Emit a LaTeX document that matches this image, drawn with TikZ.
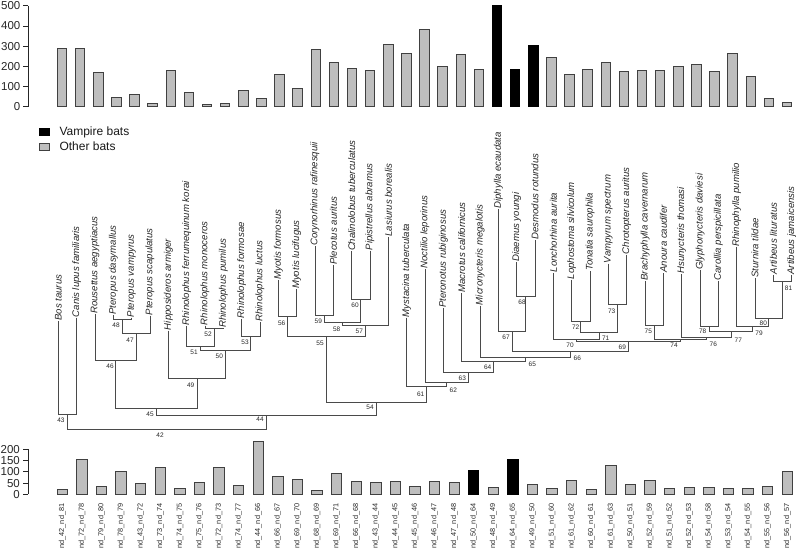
\documentclass[tikz,border=0pt]{standalone}
\usepackage{fontspec}
\setmainfont{Liberation Sans}
\definecolor{bargray}{HTML}{BEBEBE}
\definecolor{brcol}{HTML}{4A4A4A}
\begin{document}
\begin{tikzpicture}[x=1pt,y=-1pt,
  br/.style={draw=brcol,line width=0.9pt},
  tip/.style={rotate=90,anchor=east,inner sep=0.3pt,text=black!85,font=\fontsize{9.6}{11}\selectfont\itshape},
  nl/.style={inner sep=0pt,text=black!85,font=\fontsize{6.5}{7}\selectfont},
  axl/.style={anchor=east,inner sep=0pt,text=black!85,font=\fontsize{11.5}{13}\selectfont},
  blab/.style={rotate=90,anchor=east,inner sep=0pt,text=black!85,font=\fontsize{7.3}{8}\selectfont},
  legt/.style={anchor=base west,inner sep=0pt,text=black!90,font=\fontsize{12}{14}\selectfont},
  axis/.style={draw=black!85,line width=0.7pt},
  barg/.style={fill=bargray,draw=black!75,line width=0.8pt},
  bark/.style={fill=black,draw=black,line width=0.8pt}]
\useasboundingbox (0,0) rectangle (799,554);

% ---------------- top bar chart ----------------
\draw[axis] (28,5.8) -- (28,106.5);
\foreach \v [count=\k from 0] in {0,100,200,300,400,500}{
  \draw[axis] (23,{106.5-0.2014*\v}) -- (28,{106.5-0.2014*\v});
  \node[axl] (ta\k) at (20.5,{106.5-0.2014*\v}) {\v};
}
\foreach \v/\c [count=\i from 0] in {287/g,289/g,168/g,47/g,59/g,16/g,180/g,70/g,12/g,16/g,82/g,39/g,160/g,90/g,285/g,217/g,191/g,180/g,310/g,264/g,383/g,198/g,259/g,185/g,500/k,185/k,302/k,242/g,160/g,183/g,221/g,176/g,178/g,181/g,199/g,209/g,176/g,264/g,150/g,41/g,21/g}{
  \pgfmathsetmacro\xx{62+18.125*\i}
  \draw[bar\c] (\xx-4.75,106.5) rectangle (\xx+4.75,{106.5-0.2014*\v});
}

% ---------------- legend ----------------
\draw[bark] (39.5,128) rectangle (49,135.8);
\draw[barg] (39.5,143) rectangle (49,150.6);
\node[legt] (lg1) at (59.3,135.7) {Vampire bats};
\node[legt] (lg2) at (59.3,150.7) {Other bats};

% ---------------- tree: tips ----------------
\node[tip] (t0) at (58.30,274.3) {Bos taurus};
\node[tip] (t1) at (76.64,226) {Canis lupus familiaris};
\node[tip] (t2) at (94.97,216) {Rousettus aegyptiacus};
\node[tip] (t3) at (113.31,225) {Pteropus dasymallus};
\node[tip] (t4) at (131.64,234) {Pteropus vampyrus};
\node[tip] (t5) at (149.98,227.7) {Pteropus scapulatus};
\node[tip] (t6) at (168.31,238.3) {Hipposideros armiger};
\node[tip] (t7) at (186.65,180.7) {Rhinolophus ferrumequinum korai};
\node[tip] (t8) at (204.98,221) {Rhinolophus monoceros};
\node[tip] (t9) at (223.32,238.3) {Rhinolophus pumilus};
\node[tip] (t10) at (241.65,221.7) {Rhinolophus formosae};
\node[tip] (t11) at (259.99,240) {Rhinolophus luctus};
\node[tip] (t12) at (278.32,209.3) {Myotis formosus};
\node[tip] (t13) at (296.66,220) {Myotis lucifugus};
\node[tip] (t14) at (314.99,141.7) {Corynorhinus rafinesquii};
\node[tip] (t15) at (333.33,196) {Plecotus auritus};
\node[tip] (t16) at (351.66,140) {Chalinolobus tuberculatus};
\node[tip] (t17) at (370.00,163.3) {Pipistrellus abramus};
\node[tip] (t18) at (388.33,163.3) {Lasiurus borealis};
\node[tip] (t19) at (406.67,223.3) {Mystacina tuberculata};
\node[tip] (t20) at (425.00,195) {Noctilio leporinus};
\node[tip] (t21) at (443.34,209.3) {Pteronotus rubiginosus};
\node[tip] (t22) at (461.67,201.7) {Macrotus californicus};
\node[tip] (t23) at (480.01,204.3) {Micronycteris megalotis};
\node[tip] (t24) at (498.34,131.7) {Diphylla ecaudata};
\node[tip] (t25) at (516.68,192.3) {Diaemus youngi};
\node[tip] (t26) at (535.01,153.3) {Desmodus rotundus};
\node[tip] (t27) at (553.35,192.3) {Lonchorhina aurita};
\node[tip] (t28) at (571.68,181.7) {Lophostoma silvicolum};
\node[tip] (t29) at (590.02,192.3) {Tonatia saurophila};
\node[tip] (t30) at (608.35,174.3) {Vampyrum spectrum};
\node[tip] (t31) at (626.69,166.7) {Chrotopterus auritus};
\node[tip] (t32) at (645.02,171.7) {Brachyphylla cavernarum};
\node[tip] (t33) at (663.36,204.3) {Anoura caudifer};
\node[tip] (t34) at (681.69,186.7) {Hsunycteris thomasi};
\node[tip] (t35) at (700.03,173.3) {Glyphonycteris daviesi};
\node[tip] (t36) at (718.36,194) {Carollia perspicillata};
\node[tip] (t37) at (736.70,162.7) {Rhinophylla pumilio};
\node[tip] (t38) at (755.03,217.7) {Sturnira tildae};
\node[tip] (t39) at (773.37,202.3) {Artibeus lituratus};
\node[tip] (t40) at (791.70,186) {Artibeus jamaicensis};

% ---------------- tree: internal nodes ----------------
\coordinate (n42) at (166.95,429.3);
\coordinate (n43) at (67.47,414);
\coordinate (n44) at (266.42,415);
\coordinate (n45) at (156.28,408.3);
\coordinate (n46) at (115.60,360.7);
\coordinate (n47) at (136.23,333.3);
\coordinate (n48) at (122.48,319.3);
\coordinate (n49) at (196.96,378.7);
\coordinate (n50) at (225.61,350);
\coordinate (n51) at (200.40,346);
\coordinate (n52) at (214.15,328.3);
\coordinate (n53) at (250.82,336.7);
\coordinate (n54) at (376.56,402.7);
\coordinate (n55) at (326.45,336.7);
\coordinate (n56) at (287.49,316);
\coordinate (n57) at (365.42,325);
\coordinate (n58) at (342.50,322.7);
\coordinate (n59) at (324.16,315);
\coordinate (n60) at (360.83,299.3);
\coordinate (n61) at (426.68,386.7);
\coordinate (n62) at (446.68,382.7);
\coordinate (n63) at (468.36,372.7);
\coordinate (n64) at (493.38,361);
\coordinate (n65) at (525.10,357.3);
\coordinate (n66) at (570.18,351.7);
\coordinate (n67) at (512.09,331);
\coordinate (n68) at (525.85,296);
\coordinate (n69) at (628.27,341.7);
\coordinate (n70) at (576.27,339.3);
\coordinate (n71) at (599.19,332.3);
\coordinate (n72) at (580.85,321);
\coordinate (n73) at (617.52,304.3);
\coordinate (n74) at (680.26,339.3);
\coordinate (n75) at (654.19,325);
\coordinate (n76) at (706.33,337.3);
\coordinate (n77) at (730.97,331.7);
\coordinate (n78) at (709.20,326);
\coordinate (n79) at (752.74,326);
\coordinate (n80) at (768.78,318.3);
\coordinate (n81) at (782.54,281.7);

% ---------------- tree: branches ----------------
\draw[br] (t0.west) |- (n43);  \draw[br] (t1.west) |- (n43);
\draw[br] (n43) |- (n42);      \draw[br] (n44) |- (n42);
\draw[br] (n45) |- (n44);      \draw[br] (n54) |- (n44);
\draw[br] (n46) |- (n45);      \draw[br] (n49) |- (n45);
\draw[br] (t2.west) |- (n46);  \draw[br] (n47) |- (n46);
\draw[br] (n48) |- (n47);      \draw[br] (t5.west) |- (n47);
\draw[br] (t3.west) |- (n48);  \draw[br] (t4.west) |- (n48);
\draw[br] (t6.west) |- (n49);  \draw[br] (n50) |- (n49);
\draw[br] (n51) |- (n50);      \draw[br] (n53) |- (n50);
\draw[br] (t7.west) |- (n51);  \draw[br] (n52) |- (n51);
\draw[br] (t8.west) |- (n52);  \draw[br] (t9.west) |- (n52);
\draw[br] (t10.west) |- (n53); \draw[br] (t11.west) |- (n53);
\draw[br] (n55) |- (n54);      \draw[br] (n61) |- (n54);
\draw[br] (n56) |- (n55);      \draw[br] (n57) |- (n55);
\draw[br] (t12.west) |- (n56); \draw[br] (t13.west) |- (n56);
\draw[br] (n58) |- (n57);      \draw[br] (t18.west) |- (n57);
\draw[br] (n59) |- (n58);      \draw[br] (n60) |- (n58);
\draw[br] (t14.west) |- (n59); \draw[br] (t15.west) |- (n59);
\draw[br] (t16.west) |- (n60); \draw[br] (t17.west) |- (n60);
\draw[br] (t19.west) |- (n61); \draw[br] (n62) |- (n61);
\draw[br] (t20.west) |- (n62); \draw[br] (n63) |- (n62);
\draw[br] (t21.west) |- (n63); \draw[br] (n64) |- (n63);
\draw[br] (t22.west) |- (n64); \draw[br] (n65) |- (n64);
\draw[br] (t23.west) |- (n65); \draw[br] (n66) |- (n65);
\draw[br] (n67) |- (n66);      \draw[br] (n69) |- (n66);
\draw[br] (t24.west) |- (n67); \draw[br] (n68) |- (n67);
\draw[br] (t25.west) |- (n68); \draw[br] (t26.west) |- (n68);
\draw[br] (n70) |- (n69);      \draw[br] (n74) |- (n69);
\draw[br] (t27.west) |- (n70); \draw[br] (n71) |- (n70);
\draw[br] (n72) |- (n71);      \draw[br] (n73) |- (n71);
\draw[br] (t28.west) |- (n72); \draw[br] (t29.west) |- (n72);
\draw[br] (t30.west) |- (n73); \draw[br] (t31.west) |- (n73);
\draw[br] (n75) |- (n74);      \draw[br] (n76) |- (n74);
\draw[br] (t32.west) |- (n75); \draw[br] (t33.west) |- (n75);
\draw[br] (t34.west) |- (n76); \draw[br] (n77) |- (n76);
\draw[br] (n78) |- (n77);      \draw[br] (n79) |- (n77);
\draw[br] (t35.west) |- (n78); \draw[br] (t36.west) |- (n78);
\draw[br] (t37.west) |- (n79); \draw[br] (n80) |- (n79);
\draw[br] (t38.west) |- (n80); \draw[br] (n81) |- (n80);
\draw[br] (t39.west) |- (n81); \draw[br] (t40.west) |- (n81);

% ---------------- node numbers ----------------
\foreach \n/\x/\y in {42/160/435.7,43/61/420,44/260/419,45/150/414.3,46/110/366.7,47/130/340,48/116/325,49/190.7/385,50/219.3/356,51/194/352.7,52/208/334.3,53/245/342.3,54/370/407.5,55/320/343.3,56/281.7/323.3,57/359.3/331.7,58/336.7/329.3,59/318.3/321,60/355/305.7,61/420.7/394,62/453.3/390,63/462.3/378.3,64/487.7/367.3,65/532.3/364.3,66/577.3/358.3,67/506/337.3,68/522/302.3,69/622.3/347.7,70/570/345,71/605.7/338.3,72/575.7/327.7,73/611.7/311,74/674/345.7,75/648.3/331.7,76/713.3/344.3,77/738.3/340,78/702.7/331.7,79/759/333.3,80/763.3/323.3,81/788.5/288.7}{
  \node[nl] (l\n) at (\x,\y) {\n};
}

% ---------------- bottom bar chart ----------------
\draw[axis] (28,449.3) -- (28,494.3);
\foreach \v [count=\k from 0] in {0,50,100,150,200}{
  \draw[axis] (23,{494.3-0.225*\v}) -- (28,{494.3-0.225*\v});
  \node[axl] (ba\k) at (20,{494.3-0.225*\v}) {\v};
}
\foreach \v/\a/\b/\c [count=\i from 0] in {22/42/81/g,157/72/78/g,35/79/80/g,102/78/79/g,47/43/72/g,120/73/74/g,25/74/75/g,52/75/76/g,120/72/73/g,40/74/77/g,234/44/66/g,81/66/67/g,65/69/70/g,18/68/69/g,92/69/71/g,56/66/68/g,53/43/44/g,59/44/45/g,37/45/46/g,58/46/47/g,52/47/48/g,108/50/64/k,31/48/49/g,155/64/65/k,44/49/50/g,28/51/60/g,62/61/62/g,22/60/61/g,129/61/63/g,44/50/51/g,61/52/59/g,25/51/52/g,31/52/53/g,32/54/58/g,28/53/54/g,28/54/55/g,37/55/56/g,102/56/57/g}{
  \pgfmathsetmacro\xx{62.3+19.59*\i}
  \draw[bar\c] (\xx-5.2,494.3) rectangle (\xx+5.2,{494.3-0.225*\v});
  \node[blab] (bl\i) at (\xx,503.5) {nd\_\a\_nd\_\b};
}
\end{tikzpicture}
\end{document}
